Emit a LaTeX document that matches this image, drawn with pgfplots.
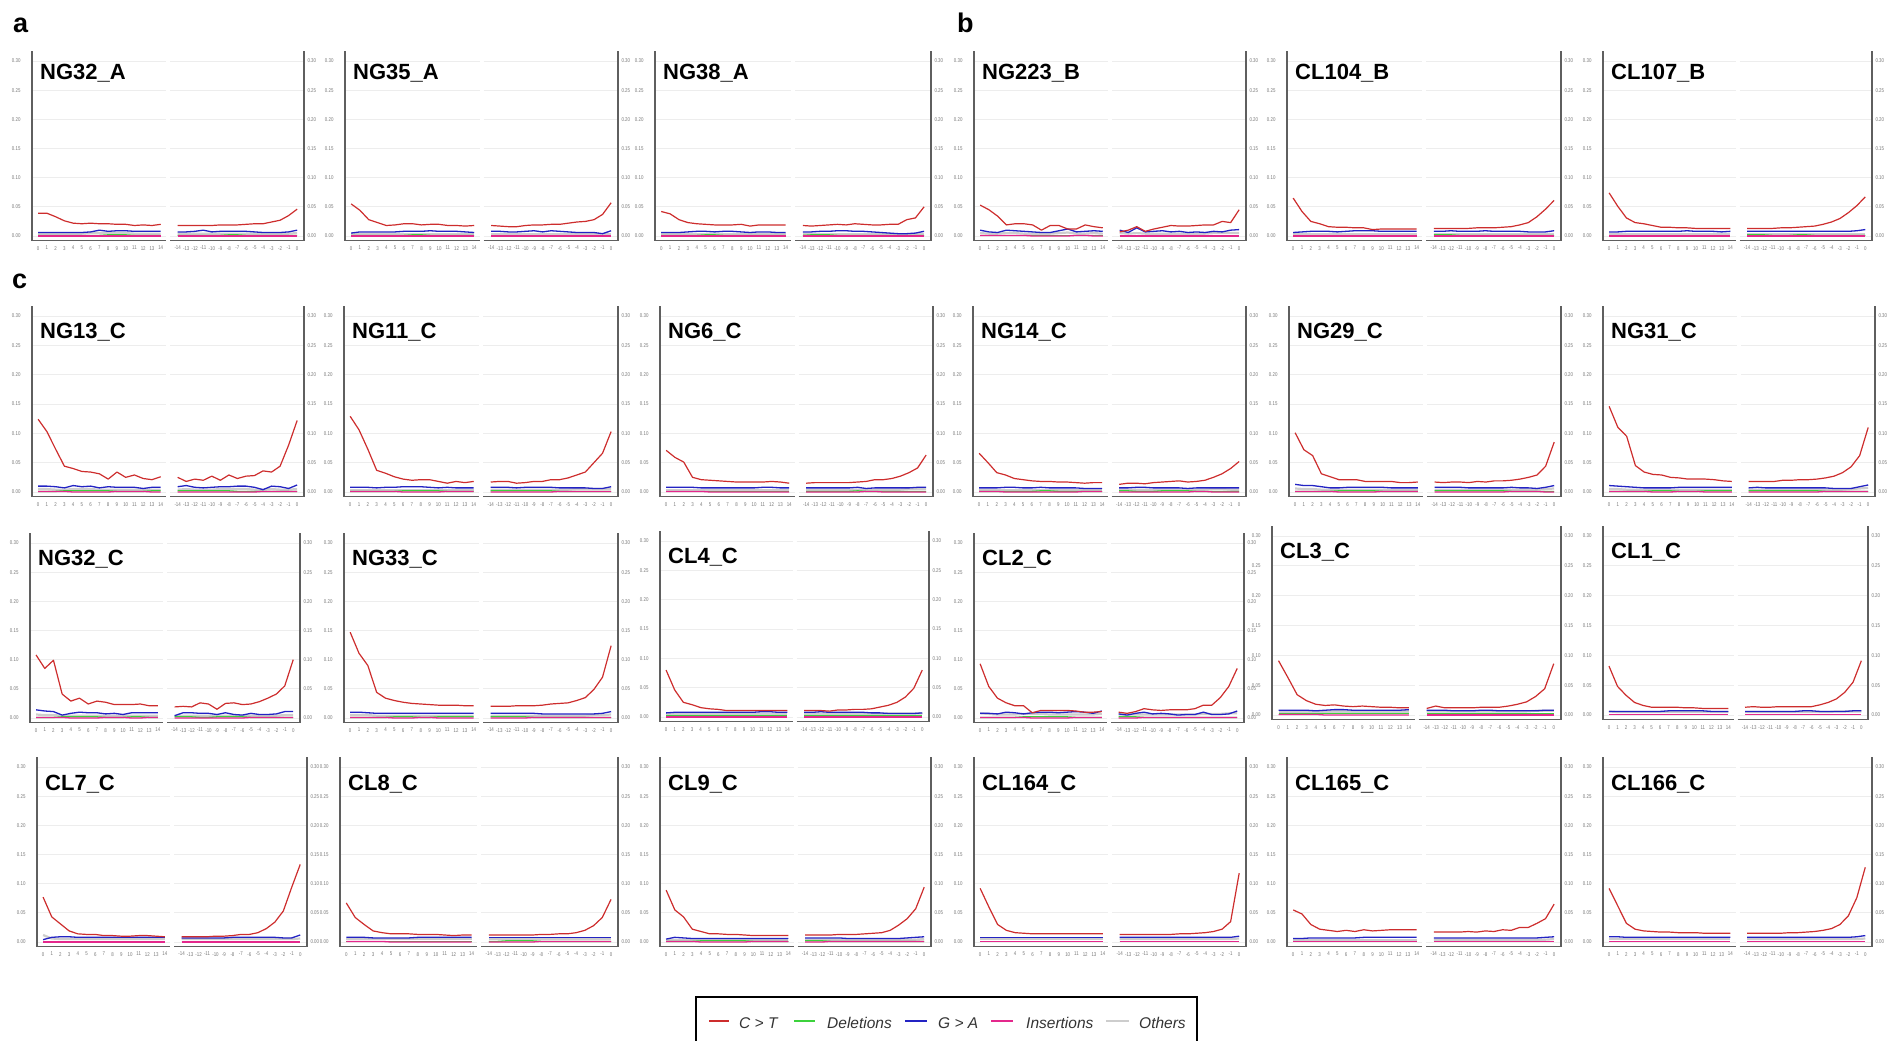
\documentclass[border=0pt]{standalone}
\usepackage{pgfplots}
\pgfplotsset{compat=1.18}
\usepackage{pgfplotstable}
\usepackage{fontspec}
\setmainfont{Liberation Sans}
\newfontfamily\tickfont{Liberation Sans}[FakeStretch=0.8]
\definecolor{ctcol}{RGB}{205,45,45}
\definecolor{delcol}{RGB}{60,210,60}
\definecolor{gacol}{RGB}{35,35,195}
\definecolor{inscol}{RGB}{228,40,140}
\definecolor{othcol}{RGB}{205,205,205}
\definecolor{axcol}{RGB}{95,95,95}
\definecolor{tkcol}{RGB}{120,120,120}

\pgfplotsset{
 half/.style={scale only axis, anchor=south west, ymin=-0.008, ymax=0.317,
  ytick={0,0.05,0.1,0.15,0.2,0.25,0.3}, ymajorgrids,
  grid style={line width=0.8pt, color=black!7},
  axis x line*=bottom,
  axis line style={line width=1.3pt, color=axcol},
  major tick length=0pt,
  tick label style={font=\tickfont\fontsize{5.5}{6}\selectfont, text=tkcol},
  xticklabel style={yshift=-2pt},
  yticklabel style={/pgf/number format/fixed, /pgf/number format/fixed zerofill, /pgf/number format/precision=2},
  /pgf/number format/assume math mode=true,
 }
}
\newcommand{\plotall}[1]{%
 \addplot[othcol, line width=2.2pt] table[x=x,y=oth]{#1};
 \addplot[delcol, line width=1.3pt] table[x=x,y=del]{#1};
 \addplot[inscol, line width=1.3pt] table[x=x,y=ins]{#1};
 \addplot[gacol, line width=1.3pt] table[x=x,y=ga]{#1};
 \addplot[ctcol, line width=1.2pt, line join=round] table[x=x,y=ct]{#1};
}
% #1 title, #2 left x, #3 right x, #4 y of 0.30, #5 y of 0.00, #6 5' table, #7 3' table, #8 title offset
\newcommand{\panel}[8]{%
 \pgfmathsetmacro{\pnK}{(#5-#4)/0.30}%
 \pgfmathsetmacro{\pnY}{-(#5+0.008*\pnK)}%
 \pgfmathsetmacro{\pnH}{0.325*\pnK}%
 \pgfmathsetmacro{\pnW}{(#3-#2-4)/2}%
 \pgfmathsetmacro{\pnX}{#2+\pnW+4}%
 \begin{axis}[half, at={(#2pt,\pnY pt)}, width=\pnW pt, height=\pnH pt,
   xmin=-0.7, xmax=14.6, axis y line*=left, xtick={0,...,14},
   yticklabel style={xshift=-8pt}]
  \plotall{#6}
 \end{axis}
 \begin{axis}[half, at={(\pnX pt,\pnY pt)}, width=\pnW pt, height=\pnH pt,
   xmin=-14.9, xmax=0.8, axis y line*=right, xtick={-14,...,0}]
  \plotall{#7}
 \end{axis}
 \node[anchor=base west, inner sep=0pt, font=\bfseries\fontsize{22}{22}\selectfont] at ({(#2+8)*1pt},{-(#4+#8)*1pt}) {#1};
}

% ---------------- data: x, C>T, Deletions, G>A, Insertions, Others
\pgfplotstableread{
x ct del ga ins oth
0 0.039 0.001 0.006 0.000 0.004
1 0.039 0.001 0.006 0.000 0.004
2 0.033 0.001 0.006 0.000 0.004
3 0.026 0.001 0.006 0.000 0.004
4 0.022 0.001 0.006 0.000 0.004
5 0.021 0.001 0.006 0.000 0.004
6 0.022 0.001 0.007 0.000 0.005
7 0.021 0.001 0.010 0.000 0.005
8 0.021 0.002 0.008 0.000 0.005
9 0.020 0.002 0.009 0.000 0.005
10 0.020 0.002 0.009 0.000 0.005
11 0.018 0.001 0.008 0.000 0.004
12 0.019 0.001 0.008 0.000 0.004
13 0.018 0.001 0.008 0.000 0.004
14 0.020 0.001 0.008 0.000 0.004
}\tbAL
\pgfplotstableread{
x ct del ga ins oth
-14 0.018 0.001 0.007 0.000 0.004
-13 0.018 0.001 0.007 0.000 0.004
-12 0.018 0.001 0.008 0.000 0.004
-11 0.018 0.001 0.010 0.000 0.004
-10 0.018 0.001 0.007 0.000 0.004
-9 0.019 0.001 0.008 0.000 0.004
-8 0.019 0.002 0.008 0.000 0.004
-7 0.019 0.002 0.008 0.000 0.004
-6 0.020 0.001 0.008 0.000 0.004
-5 0.021 0.001 0.007 0.000 0.004
-4 0.021 0.001 0.006 0.000 0.003
-3 0.024 0.001 0.006 0.000 0.003
-2 0.027 0.001 0.006 0.000 0.004
-1 0.035 0.001 0.007 0.000 0.004
0 0.046 0.001 0.010 0.000 0.005
}\tbAR
\pgfplotstableread{
x ct del ga ins oth
0 0.055 0.001 0.005 0.000 0.004
1 0.044 0.001 0.007 0.000 0.004
2 0.028 0.001 0.007 0.000 0.004
3 0.023 0.001 0.007 0.000 0.004
4 0.018 0.001 0.007 0.000 0.004
5 0.019 0.001 0.007 0.000 0.004
6 0.021 0.001 0.008 0.000 0.004
7 0.021 0.002 0.008 0.000 0.004
8 0.019 0.002 0.008 0.000 0.004
9 0.020 0.001 0.009 0.000 0.004
10 0.020 0.001 0.008 0.000 0.004
11 0.018 0.001 0.008 0.000 0.004
12 0.018 0.001 0.008 0.000 0.004
13 0.017 0.001 0.007 0.000 0.004
14 0.018 0.001 0.006 0.000 0.004
}\tbBL
\pgfplotstableread{
x ct del ga ins oth
-14 0.018 0.001 0.008 0.000 0.004
-13 0.017 0.001 0.008 0.000 0.004
-12 0.016 0.001 0.007 0.000 0.004
-11 0.016 0.001 0.007 0.000 0.004
-10 0.018 0.001 0.008 0.000 0.004
-9 0.019 0.001 0.009 0.000 0.004
-8 0.019 0.001 0.007 0.000 0.004
-7 0.020 0.001 0.009 0.000 0.004
-6 0.020 0.001 0.008 0.000 0.004
-5 0.022 0.001 0.007 0.000 0.004
-4 0.024 0.001 0.006 0.000 0.004
-3 0.025 0.001 0.006 0.000 0.004
-2 0.028 0.001 0.006 0.000 0.004
-1 0.037 0.001 0.004 0.000 0.004
0 0.057 0.001 0.009 0.000 0.004
}\tbBR
\pgfplotstableread{
x ct del ga ins oth
0 0.042 0.001 0.006 0.000 0.004
1 0.038 0.001 0.006 0.000 0.004
2 0.028 0.001 0.006 0.000 0.004
3 0.023 0.001 0.007 0.000 0.004
4 0.021 0.001 0.008 0.000 0.004
5 0.020 0.002 0.008 0.000 0.004
6 0.019 0.002 0.007 0.000 0.004
7 0.019 0.001 0.008 0.000 0.004
8 0.019 0.001 0.008 0.000 0.004
9 0.020 0.001 0.007 0.000 0.004
10 0.017 0.001 0.006 0.000 0.004
11 0.019 0.001 0.007 0.000 0.004
12 0.019 0.001 0.007 0.000 0.004
13 0.019 0.001 0.006 0.000 0.004
14 0.019 0.001 0.006 0.000 0.004
}\tbCL
\pgfplotstableread{
x ct del ga ins oth
-14 0.018 0.001 0.007 0.000 0.004
-13 0.017 0.002 0.007 0.000 0.004
-12 0.018 0.002 0.008 0.000 0.004
-11 0.019 0.002 0.008 0.000 0.004
-10 0.020 0.001 0.009 0.000 0.004
-9 0.019 0.001 0.009 0.000 0.004
-8 0.021 0.001 0.008 0.000 0.004
-7 0.020 0.001 0.008 0.000 0.004
-6 0.019 0.001 0.007 0.000 0.004
-5 0.019 0.001 0.006 0.000 0.004
-4 0.020 0.001 0.005 0.000 0.004
-3 0.020 0.001 0.004 0.000 0.004
-2 0.028 0.001 0.004 0.000 0.004
-1 0.031 0.001 0.005 0.000 0.004
0 0.050 0.001 0.008 0.000 0.004
}\tbCR
\pgfplotstableread{
x ct del ga ins oth
0 0.053 0.001 0.010 0.001 0.005
1 0.045 0.001 0.007 0.001 0.004
2 0.034 0.001 0.006 0.001 0.004
3 0.019 0.001 0.010 0.001 0.005
4 0.021 0.001 0.009 0.001 0.005
5 0.021 0.001 0.008 0.001 0.004
6 0.019 0.001 0.007 0.000 0.004
7 0.010 0.001 0.006 0.000 0.004
8 0.018 0.001 0.006 0.000 0.004
9 0.018 0.001 0.009 0.000 0.005
10 0.012 0.001 0.012 0.000 0.006
11 0.012 0.001 0.007 0.001 0.004
12 0.019 0.001 0.008 0.001 0.004
13 0.016 0.001 0.009 0.000 0.005
14 0.014 0.001 0.008 0.000 0.004
}\tbDL
\pgfplotstableread{
x ct del ga ins oth
-14 0.007 0.001 0.010 0.000 0.005
-13 0.010 0.001 0.006 0.000 0.004
-12 0.016 0.001 0.014 0.000 0.005
-11 0.008 0.001 0.007 0.000 0.004
-10 0.012 0.001 0.008 0.000 0.004
-9 0.015 0.001 0.009 0.000 0.004
-8 0.018 0.001 0.007 0.000 0.004
-7 0.017 0.001 0.008 0.000 0.004
-6 0.017 0.001 0.006 0.000 0.004
-5 0.018 0.001 0.007 0.000 0.004
-4 0.019 0.001 0.006 0.000 0.004
-3 0.019 0.001 0.008 0.000 0.005
-2 0.025 0.001 0.007 0.000 0.005
-1 0.023 0.001 0.010 0.000 0.005
0 0.045 0.001 0.011 0.000 0.005
}\tbDR
\pgfplotstableread{
x ct del ga ins oth
0 0.065 0.001 0.006 0.000 0.004
1 0.042 0.001 0.007 0.000 0.004
2 0.025 0.001 0.008 0.000 0.004
3 0.021 0.001 0.008 0.000 0.004
4 0.016 0.001 0.008 0.000 0.004
5 0.015 0.001 0.007 0.000 0.004
6 0.015 0.001 0.008 0.000 0.004
7 0.014 0.001 0.009 0.000 0.004
8 0.014 0.001 0.009 0.000 0.004
9 0.011 0.001 0.009 0.000 0.004
10 0.012 0.001 0.008 0.000 0.004
11 0.012 0.001 0.008 0.000 0.004
12 0.012 0.001 0.008 0.000 0.004
13 0.012 0.001 0.008 0.000 0.004
14 0.012 0.001 0.008 0.000 0.004
}\tbEL
\pgfplotstableread{
x ct del ga ins oth
-14 0.013 0.002 0.008 0.000 0.004
-13 0.013 0.002 0.008 0.000 0.004
-12 0.013 0.002 0.009 0.000 0.004
-11 0.013 0.001 0.008 0.000 0.004
-10 0.013 0.001 0.008 0.000 0.004
-9 0.014 0.001 0.008 0.000 0.004
-8 0.014 0.001 0.009 0.000 0.004
-7 0.014 0.001 0.008 0.000 0.004
-6 0.015 0.001 0.008 0.000 0.004
-5 0.016 0.001 0.008 0.000 0.004
-4 0.019 0.001 0.008 0.000 0.004
-3 0.023 0.001 0.007 0.000 0.004
-2 0.033 0.001 0.007 0.000 0.004
-1 0.046 0.001 0.007 0.000 0.004
0 0.061 0.001 0.009 0.000 0.004
}\tbER
\pgfplotstableread{
x ct del ga ins oth
0 0.074 0.001 0.007 0.000 0.004
1 0.051 0.001 0.007 0.000 0.004
2 0.031 0.001 0.008 0.000 0.004
3 0.023 0.001 0.008 0.000 0.004
4 0.021 0.001 0.008 0.000 0.004
5 0.018 0.001 0.008 0.000 0.004
6 0.015 0.001 0.008 0.000 0.004
7 0.015 0.001 0.008 0.000 0.004
8 0.014 0.001 0.008 0.000 0.004
9 0.014 0.001 0.009 0.000 0.004
10 0.013 0.001 0.008 0.000 0.004
11 0.013 0.001 0.008 0.000 0.004
12 0.013 0.001 0.008 0.000 0.004
13 0.013 0.001 0.007 0.000 0.004
14 0.013 0.001 0.008 0.000 0.004
}\tbFL
\pgfplotstableread{
x ct del ga ins oth
-14 0.013 0.002 0.008 0.000 0.004
-13 0.013 0.002 0.008 0.000 0.004
-12 0.013 0.002 0.008 0.000 0.004
-11 0.013 0.001 0.008 0.000 0.004
-10 0.014 0.001 0.008 0.000 0.004
-9 0.014 0.001 0.008 0.000 0.004
-8 0.015 0.002 0.008 0.000 0.004
-7 0.016 0.002 0.008 0.000 0.004
-6 0.017 0.001 0.008 0.000 0.004
-5 0.020 0.001 0.008 0.000 0.004
-4 0.024 0.001 0.008 0.000 0.004
-3 0.030 0.001 0.008 0.000 0.004
-2 0.040 0.001 0.008 0.000 0.004
-1 0.052 0.001 0.009 0.000 0.004
0 0.067 0.001 0.011 0.000 0.004
}\tbFR
\pgfplotstableread{
x ct del ga ins oth
0 0.124 0.001 0.010 0.001 0.005
1 0.103 0.001 0.010 0.001 0.005
2 0.073 0.001 0.009 0.001 0.004
3 0.044 0.002 0.007 0.001 0.004
4 0.040 0.002 0.011 0.000 0.005
5 0.035 0.002 0.009 0.000 0.005
6 0.034 0.002 0.010 0.000 0.005
7 0.031 0.002 0.007 0.000 0.004
8 0.022 0.002 0.009 0.000 0.004
9 0.034 0.001 0.008 0.001 0.004
10 0.025 0.001 0.008 0.001 0.004
11 0.029 0.001 0.008 0.001 0.004
12 0.023 0.001 0.006 0.001 0.004
13 0.021 0.002 0.008 0.000 0.004
14 0.026 0.002 0.008 0.000 0.004
}\tbGL
\pgfplotstableread{
x ct del ga ins oth
-14 0.025 0.002 0.009 0.000 0.004
-13 0.018 0.002 0.011 0.000 0.005
-12 0.022 0.002 0.008 0.000 0.004
-11 0.020 0.002 0.007 0.000 0.004
-10 0.027 0.002 0.008 0.000 0.004
-9 0.020 0.002 0.009 0.000 0.005
-8 0.029 0.002 0.009 0.000 0.005
-7 0.023 0.001 0.010 0.000 0.005
-6 0.027 0.001 0.010 0.000 0.005
-5 0.028 0.001 0.008 0.000 0.004
-4 0.036 0.001 0.004 0.001 0.004
-3 0.034 0.001 0.010 0.001 0.005
-2 0.044 0.001 0.009 0.001 0.004
-1 0.080 0.001 0.006 0.001 0.004
0 0.122 0.001 0.012 0.001 0.005
}\tbGR
\pgfplotstableread{
x ct del ga ins oth
0 0.129 0.001 0.008 0.001 0.004
1 0.106 0.001 0.008 0.001 0.004
2 0.073 0.001 0.008 0.001 0.004
3 0.037 0.001 0.007 0.001 0.004
4 0.032 0.001 0.008 0.001 0.004
5 0.026 0.001 0.008 0.001 0.004
6 0.022 0.002 0.009 0.000 0.004
7 0.020 0.002 0.009 0.000 0.004
8 0.021 0.002 0.009 0.000 0.004
9 0.021 0.002 0.008 0.000 0.004
10 0.018 0.002 0.007 0.000 0.004
11 0.015 0.001 0.008 0.001 0.004
12 0.018 0.001 0.007 0.001 0.004
13 0.016 0.001 0.007 0.001 0.004
14 0.018 0.001 0.007 0.001 0.004
}\tbHL
\pgfplotstableread{
x ct del ga ins oth
-14 0.017 0.002 0.008 0.000 0.004
-13 0.018 0.002 0.008 0.000 0.004
-12 0.018 0.002 0.008 0.000 0.004
-11 0.015 0.002 0.007 0.000 0.004
-10 0.016 0.002 0.008 0.000 0.004
-9 0.018 0.002 0.008 0.000 0.004
-8 0.018 0.002 0.008 0.000 0.004
-7 0.021 0.002 0.008 0.000 0.004
-6 0.021 0.001 0.007 0.001 0.004
-5 0.024 0.001 0.007 0.001 0.004
-4 0.029 0.001 0.007 0.001 0.005
-3 0.034 0.001 0.007 0.001 0.005
-2 0.050 0.001 0.006 0.001 0.005
-1 0.066 0.001 0.006 0.001 0.005
0 0.103 0.001 0.009 0.001 0.005
}\tbHR
\pgfplotstableread{
x ct del ga ins oth
0 0.071 0.001 0.008 0.001 0.004
1 0.059 0.001 0.008 0.001 0.004
2 0.051 0.001 0.008 0.001 0.004
3 0.025 0.001 0.008 0.001 0.004
4 0.021 0.001 0.007 0.001 0.004
5 0.020 0.001 0.007 0.000 0.004
6 0.019 0.001 0.007 0.000 0.004
7 0.018 0.001 0.007 0.000 0.004
8 0.017 0.001 0.007 0.000 0.004
9 0.017 0.001 0.007 0.000 0.004
10 0.017 0.001 0.007 0.000 0.004
11 0.017 0.001 0.008 0.000 0.004
12 0.018 0.001 0.008 0.000 0.004
13 0.017 0.001 0.007 0.000 0.004
14 0.015 0.001 0.007 0.000 0.004
}\tbIL
\pgfplotstableread{
x ct del ga ins oth
-14 0.015 0.001 0.007 0.000 0.004
-13 0.016 0.001 0.007 0.000 0.004
-12 0.016 0.001 0.007 0.000 0.004
-11 0.016 0.001 0.007 0.000 0.004
-10 0.016 0.001 0.007 0.000 0.004
-9 0.016 0.001 0.007 0.000 0.004
-8 0.017 0.002 0.008 0.000 0.004
-7 0.018 0.001 0.006 0.001 0.004
-6 0.021 0.001 0.007 0.001 0.004
-5 0.021 0.001 0.007 0.000 0.004
-4 0.023 0.001 0.007 0.000 0.004
-3 0.027 0.001 0.007 0.000 0.004
-2 0.033 0.001 0.007 0.000 0.005
-1 0.041 0.001 0.008 0.000 0.005
0 0.063 0.001 0.008 0.000 0.005
}\tbIR
\pgfplotstableread{
x ct del ga ins oth
0 0.066 0.001 0.007 0.001 0.004
1 0.050 0.001 0.007 0.001 0.004
2 0.033 0.001 0.007 0.001 0.004
3 0.029 0.001 0.008 0.000 0.004
4 0.023 0.001 0.008 0.000 0.004
5 0.021 0.001 0.007 0.000 0.004
6 0.019 0.001 0.007 0.000 0.004
7 0.018 0.002 0.008 0.000 0.004
8 0.018 0.002 0.007 0.000 0.004
9 0.017 0.001 0.007 0.000 0.004
10 0.017 0.001 0.007 0.000 0.004
11 0.016 0.001 0.007 0.000 0.004
12 0.015 0.001 0.006 0.001 0.004
13 0.016 0.001 0.006 0.001 0.004
14 0.016 0.001 0.006 0.001 0.004
}\tbJL
\pgfplotstableread{
x ct del ga ins oth
-14 0.013 0.002 0.007 0.000 0.004
-13 0.015 0.002 0.007 0.000 0.004
-12 0.015 0.001 0.008 0.000 0.004
-11 0.014 0.001 0.008 0.000 0.004
-10 0.016 0.001 0.007 0.000 0.004
-9 0.017 0.002 0.007 0.000 0.004
-8 0.018 0.002 0.007 0.000 0.004
-7 0.019 0.002 0.007 0.000 0.004
-6 0.017 0.002 0.006 0.000 0.004
-5 0.018 0.001 0.007 0.001 0.004
-4 0.020 0.001 0.007 0.001 0.004
-3 0.025 0.001 0.007 0.000 0.005
-2 0.031 0.001 0.007 0.000 0.005
-1 0.040 0.001 0.007 0.000 0.004
0 0.052 0.001 0.007 0.000 0.004
}\tbJR
\pgfplotstableread{
x ct del ga ins oth
0 0.101 0.001 0.013 0.001 0.006
1 0.072 0.001 0.011 0.001 0.005
2 0.062 0.001 0.011 0.001 0.005
3 0.031 0.001 0.009 0.001 0.004
4 0.026 0.001 0.007 0.001 0.004
5 0.021 0.002 0.007 0.000 0.004
6 0.021 0.002 0.008 0.000 0.004
7 0.021 0.002 0.008 0.000 0.004
8 0.018 0.002 0.008 0.000 0.004
9 0.018 0.002 0.008 0.000 0.004
10 0.018 0.001 0.008 0.001 0.004
11 0.018 0.001 0.007 0.001 0.004
12 0.016 0.001 0.007 0.001 0.004
13 0.016 0.001 0.007 0.001 0.004
14 0.017 0.001 0.007 0.001 0.004
}\tbKL
\pgfplotstableread{
x ct del ga ins oth
-14 0.017 0.002 0.008 0.000 0.004
-13 0.016 0.002 0.008 0.000 0.004
-12 0.017 0.002 0.008 0.000 0.004
-11 0.017 0.002 0.008 0.000 0.004
-10 0.016 0.002 0.007 0.000 0.004
-9 0.018 0.002 0.007 0.000 0.004
-8 0.017 0.002 0.007 0.000 0.004
-7 0.019 0.002 0.007 0.000 0.004
-6 0.019 0.002 0.007 0.000 0.004
-5 0.020 0.001 0.008 0.001 0.004
-4 0.022 0.001 0.007 0.001 0.004
-3 0.025 0.001 0.007 0.001 0.004
-2 0.029 0.001 0.006 0.001 0.004
-1 0.044 0.001 0.008 0.000 0.005
0 0.085 0.001 0.011 0.000 0.006
}\tbKR
\pgfplotstableread{
x ct del ga ins oth
0 0.146 0.001 0.011 0.001 0.005
1 0.110 0.001 0.010 0.001 0.005
2 0.095 0.001 0.009 0.001 0.004
3 0.045 0.001 0.008 0.001 0.004
4 0.034 0.001 0.007 0.001 0.004
5 0.030 0.002 0.007 0.000 0.004
6 0.029 0.002 0.007 0.000 0.004
7 0.025 0.002 0.007 0.000 0.004
8 0.024 0.001 0.008 0.001 0.004
9 0.022 0.001 0.008 0.001 0.004
10 0.022 0.001 0.008 0.001 0.004
11 0.022 0.002 0.008 0.000 0.004
12 0.021 0.002 0.008 0.000 0.004
13 0.019 0.002 0.008 0.000 0.004
14 0.018 0.002 0.008 0.000 0.004
}\tbLL
\pgfplotstableread{
x ct del ga ins oth
-14 0.018 0.002 0.007 0.000 0.004
-13 0.018 0.002 0.008 0.000 0.004
-12 0.018 0.002 0.007 0.000 0.004
-11 0.018 0.002 0.007 0.000 0.004
-10 0.020 0.002 0.007 0.000 0.004
-9 0.020 0.002 0.007 0.000 0.004
-8 0.021 0.002 0.007 0.000 0.004
-7 0.021 0.002 0.007 0.000 0.004
-6 0.022 0.002 0.007 0.000 0.004
-5 0.024 0.001 0.007 0.001 0.004
-4 0.027 0.001 0.006 0.001 0.004
-3 0.033 0.001 0.006 0.001 0.004
-2 0.043 0.001 0.006 0.001 0.005
-1 0.062 0.001 0.009 0.001 0.006
0 0.110 0.001 0.012 0.001 0.007
}\tbLR
\pgfplotstableread{
x ct del ga ins oth
0 0.108 0.001 0.014 0.001 0.006
1 0.085 0.001 0.012 0.001 0.005
2 0.099 0.001 0.011 0.001 0.005
3 0.041 0.002 0.005 0.001 0.004
4 0.029 0.002 0.008 0.000 0.004
5 0.034 0.002 0.010 0.000 0.004
6 0.024 0.002 0.009 0.000 0.004
7 0.029 0.002 0.009 0.000 0.004
8 0.027 0.001 0.007 0.001 0.004
9 0.023 0.001 0.008 0.001 0.004
10 0.023 0.001 0.006 0.001 0.004
11 0.023 0.002 0.009 0.000 0.004
12 0.024 0.002 0.009 0.000 0.004
13 0.021 0.001 0.009 0.001 0.004
14 0.021 0.001 0.009 0.001 0.004
}\tbML
\pgfplotstableread{
x ct del ga ins oth
-14 0.019 0.002 0.004 0.000 0.004
-13 0.020 0.002 0.009 0.000 0.004
-12 0.019 0.002 0.009 0.000 0.004
-11 0.026 0.001 0.008 0.000 0.004
-10 0.024 0.001 0.008 0.000 0.004
-9 0.015 0.002 0.006 0.000 0.004
-8 0.025 0.002 0.009 0.000 0.004
-7 0.026 0.002 0.006 0.000 0.004
-6 0.023 0.002 0.005 0.000 0.004
-5 0.024 0.001 0.008 0.001 0.004
-4 0.028 0.001 0.006 0.001 0.004
-3 0.034 0.001 0.006 0.001 0.004
-2 0.041 0.001 0.007 0.001 0.004
-1 0.055 0.001 0.011 0.001 0.005
0 0.100 0.001 0.011 0.001 0.005
}\tbMR
\pgfplotstableread{
x ct del ga ins oth
0 0.147 0.001 0.010 0.001 0.005
1 0.111 0.001 0.010 0.001 0.005
2 0.090 0.001 0.009 0.001 0.005
3 0.044 0.001 0.008 0.001 0.004
4 0.034 0.001 0.008 0.001 0.004
5 0.030 0.002 0.008 0.000 0.004
6 0.027 0.002 0.008 0.000 0.004
7 0.025 0.002 0.008 0.000 0.004
8 0.024 0.001 0.008 0.001 0.004
9 0.023 0.001 0.008 0.001 0.004
10 0.022 0.002 0.008 0.000 0.004
11 0.022 0.002 0.008 0.000 0.004
12 0.022 0.002 0.008 0.000 0.004
13 0.021 0.002 0.008 0.000 0.004
14 0.021 0.002 0.008 0.000 0.004
}\tbNL
\pgfplotstableread{
x ct del ga ins oth
-14 0.020 0.002 0.008 0.000 0.004
-13 0.020 0.002 0.008 0.000 0.004
-12 0.020 0.002 0.008 0.000 0.004
-11 0.021 0.002 0.008 0.000 0.004
-10 0.021 0.002 0.008 0.000 0.004
-9 0.021 0.001 0.008 0.001 0.004
-8 0.022 0.001 0.007 0.001 0.004
-7 0.024 0.001 0.007 0.001 0.004
-6 0.025 0.001 0.007 0.001 0.004
-5 0.026 0.001 0.007 0.001 0.004
-4 0.030 0.001 0.007 0.001 0.004
-3 0.035 0.001 0.007 0.001 0.004
-2 0.049 0.001 0.007 0.001 0.005
-1 0.070 0.001 0.008 0.001 0.005
0 0.124 0.001 0.011 0.001 0.006
}\tbNR
\pgfplotstableread{
x ct del ga ins oth
0 0.080 0.002 0.007 0.000 0.005
1 0.046 0.002 0.008 0.000 0.005
2 0.025 0.002 0.008 0.000 0.005
3 0.021 0.002 0.008 0.000 0.005
4 0.016 0.002 0.008 0.000 0.005
5 0.014 0.002 0.008 0.000 0.005
6 0.013 0.002 0.008 0.000 0.005
7 0.011 0.002 0.008 0.000 0.005
8 0.011 0.002 0.008 0.000 0.005
9 0.011 0.002 0.008 0.000 0.005
10 0.011 0.002 0.008 0.000 0.005
11 0.011 0.002 0.009 0.000 0.005
12 0.011 0.002 0.009 0.000 0.005
13 0.011 0.002 0.008 0.000 0.005
14 0.011 0.002 0.008 0.000 0.005
}\tbOL
\pgfplotstableread{
x ct del ga ins oth
-14 0.011 0.002 0.008 0.000 0.005
-13 0.011 0.002 0.008 0.000 0.005
-12 0.011 0.002 0.009 0.000 0.005
-11 0.010 0.002 0.008 0.000 0.005
-10 0.012 0.002 0.008 0.000 0.005
-9 0.012 0.002 0.008 0.000 0.005
-8 0.013 0.002 0.008 0.000 0.005
-7 0.013 0.002 0.008 0.000 0.005
-6 0.014 0.002 0.007 0.000 0.005
-5 0.017 0.002 0.007 0.000 0.005
-4 0.020 0.002 0.006 0.000 0.006
-3 0.025 0.002 0.006 0.000 0.006
-2 0.034 0.002 0.006 0.000 0.006
-1 0.049 0.002 0.006 0.000 0.006
0 0.080 0.002 0.007 0.000 0.006
}\tbOR
\pgfplotstableread{
x ct del ga ins oth
0 0.093 0.001 0.008 0.001 0.008
1 0.054 0.001 0.008 0.001 0.007
2 0.034 0.001 0.007 0.001 0.006
3 0.026 0.001 0.010 0.001 0.006
4 0.021 0.001 0.009 0.001 0.006
5 0.021 0.002 0.007 0.001 0.007
6 0.009 0.002 0.009 0.000 0.007
7 0.013 0.002 0.010 0.000 0.007
8 0.013 0.002 0.010 0.000 0.006
9 0.013 0.002 0.009 0.000 0.006
10 0.013 0.002 0.010 0.000 0.006
11 0.012 0.001 0.011 0.001 0.006
12 0.010 0.001 0.010 0.001 0.006
13 0.010 0.001 0.008 0.001 0.006
14 0.011 0.001 0.012 0.001 0.007
}\tbPL
\pgfplotstableread{
x ct del ga ins oth
-14 0.010 0.002 0.007 0.000 0.006
-13 0.008 0.002 0.005 0.000 0.006
-12 0.011 0.002 0.008 0.000 0.006
-11 0.016 0.001 0.010 0.001 0.006
-10 0.014 0.001 0.007 0.001 0.006
-9 0.013 0.001 0.008 0.001 0.006
-8 0.014 0.001 0.007 0.001 0.006
-7 0.014 0.001 0.005 0.001 0.006
-6 0.014 0.001 0.006 0.001 0.006
-5 0.016 0.001 0.006 0.001 0.006
-4 0.022 0.001 0.010 0.001 0.007
-3 0.022 0.001 0.006 0.001 0.007
-2 0.035 0.001 0.006 0.001 0.007
-1 0.054 0.001 0.007 0.001 0.008
0 0.085 0.001 0.012 0.001 0.008
}\tbPR
\pgfplotstableread{
x ct del ga ins oth
0 0.091 0.002 0.008 0.001 0.006
1 0.063 0.002 0.008 0.001 0.006
2 0.034 0.002 0.008 0.001 0.006
3 0.024 0.002 0.008 0.001 0.006
4 0.018 0.002 0.007 0.001 0.006
5 0.016 0.002 0.008 0.000 0.006
6 0.017 0.002 0.009 0.000 0.006
7 0.015 0.002 0.009 0.000 0.006
8 0.014 0.002 0.008 0.000 0.006
9 0.015 0.002 0.008 0.000 0.006
10 0.014 0.002 0.008 0.000 0.006
11 0.013 0.002 0.008 0.000 0.006
12 0.013 0.002 0.008 0.000 0.006
13 0.012 0.002 0.008 0.000 0.006
14 0.012 0.002 0.009 0.000 0.006
}\tbQL
\pgfplotstableread{
x ct del ga ins oth
-14 0.011 0.002 0.008 0.000 0.006
-13 0.015 0.002 0.008 0.000 0.006
-12 0.012 0.002 0.008 0.000 0.006
-11 0.012 0.002 0.007 0.000 0.006
-10 0.012 0.002 0.007 0.000 0.006
-9 0.012 0.002 0.007 0.000 0.006
-8 0.013 0.002 0.008 0.000 0.006
-7 0.013 0.002 0.008 0.000 0.006
-6 0.013 0.002 0.007 0.000 0.006
-5 0.015 0.002 0.007 0.000 0.006
-4 0.018 0.002 0.007 0.000 0.006
-3 0.022 0.002 0.007 0.000 0.006
-2 0.031 0.002 0.007 0.000 0.007
-1 0.044 0.002 0.008 0.000 0.007
0 0.086 0.002 0.008 0.000 0.007
}\tbQR
\pgfplotstableread{
x ct del ga ins oth
0 0.082 0.001 0.006 0.001 0.006
1 0.048 0.001 0.006 0.001 0.005
2 0.033 0.001 0.006 0.001 0.005
3 0.021 0.001 0.006 0.001 0.005
4 0.016 0.001 0.006 0.001 0.005
5 0.013 0.001 0.006 0.001 0.005
6 0.013 0.001 0.006 0.001 0.005
7 0.013 0.001 0.007 0.001 0.005
8 0.013 0.001 0.007 0.001 0.005
9 0.012 0.001 0.007 0.001 0.005
10 0.012 0.001 0.007 0.001 0.005
11 0.011 0.001 0.007 0.001 0.005
12 0.011 0.001 0.006 0.001 0.005
13 0.011 0.001 0.006 0.001 0.005
14 0.011 0.001 0.006 0.001 0.005
}\tbRL
\pgfplotstableread{
x ct del ga ins oth
-14 0.013 0.001 0.006 0.001 0.005
-13 0.014 0.001 0.006 0.001 0.005
-12 0.013 0.001 0.006 0.001 0.005
-11 0.013 0.001 0.006 0.001 0.005
-10 0.014 0.001 0.006 0.001 0.005
-9 0.014 0.001 0.006 0.001 0.005
-8 0.014 0.001 0.006 0.001 0.005
-7 0.014 0.001 0.007 0.001 0.005
-6 0.014 0.001 0.007 0.001 0.005
-5 0.017 0.001 0.006 0.001 0.005
-4 0.021 0.001 0.006 0.001 0.005
-3 0.027 0.001 0.006 0.001 0.006
-2 0.038 0.001 0.006 0.001 0.006
-1 0.055 0.001 0.007 0.001 0.006
0 0.091 0.001 0.007 0.001 0.006
}\tbRR
\pgfplotstableread{
x ct del ga ins oth
0 0.077 0.001 0.004 0.000 0.012
1 0.043 0.001 0.008 0.000 0.006
2 0.031 0.001 0.009 0.000 0.005
3 0.019 0.001 0.009 0.000 0.005
4 0.014 0.001 0.008 0.000 0.005
5 0.013 0.001 0.008 0.000 0.005
6 0.013 0.001 0.008 0.000 0.005
7 0.011 0.001 0.008 0.000 0.005
8 0.011 0.001 0.008 0.000 0.005
9 0.010 0.001 0.008 0.000 0.005
10 0.010 0.001 0.008 0.000 0.005
11 0.011 0.001 0.008 0.000 0.005
12 0.011 0.001 0.008 0.000 0.005
13 0.010 0.001 0.008 0.000 0.005
14 0.009 0.001 0.008 0.000 0.005
}\tbSL
\pgfplotstableread{
x ct del ga ins oth
-14 0.009 0.001 0.007 0.000 0.005
-13 0.009 0.001 0.007 0.000 0.005
-12 0.009 0.001 0.007 0.000 0.005
-11 0.009 0.001 0.007 0.000 0.005
-10 0.010 0.001 0.007 0.000 0.005
-9 0.010 0.001 0.007 0.000 0.005
-8 0.011 0.001 0.008 0.000 0.005
-7 0.013 0.001 0.008 0.000 0.005
-6 0.013 0.001 0.008 0.000 0.005
-5 0.016 0.001 0.008 0.000 0.005
-4 0.023 0.001 0.008 0.000 0.005
-3 0.034 0.001 0.008 0.000 0.005
-2 0.053 0.001 0.007 0.000 0.005
-1 0.094 0.001 0.007 0.000 0.005
0 0.133 0.001 0.012 0.000 0.006
}\tbSR
\pgfplotstableread{
x ct del ga ins oth
0 0.067 0.001 0.008 0.001 0.005
1 0.042 0.001 0.008 0.001 0.005
2 0.030 0.001 0.008 0.001 0.005
3 0.019 0.001 0.007 0.001 0.005
4 0.016 0.001 0.007 0.001 0.005
5 0.014 0.001 0.007 0.000 0.005
6 0.014 0.001 0.007 0.000 0.005
7 0.014 0.001 0.007 0.000 0.005
8 0.013 0.001 0.008 0.000 0.005
9 0.013 0.001 0.008 0.000 0.005
10 0.013 0.001 0.008 0.000 0.005
11 0.012 0.001 0.008 0.000 0.005
12 0.011 0.001 0.008 0.000 0.005
13 0.012 0.001 0.008 0.000 0.005
14 0.012 0.001 0.008 0.000 0.005
}\tbTL
\pgfplotstableread{
x ct del ga ins oth
-14 0.012 0.001 0.008 0.000 0.005
-13 0.012 0.001 0.008 0.000 0.005
-12 0.012 0.002 0.008 0.000 0.005
-11 0.012 0.002 0.008 0.000 0.005
-10 0.012 0.002 0.008 0.000 0.005
-9 0.012 0.002 0.008 0.000 0.005
-8 0.013 0.001 0.008 0.001 0.005
-7 0.013 0.001 0.008 0.001 0.005
-6 0.014 0.001 0.008 0.001 0.005
-5 0.014 0.001 0.008 0.001 0.005
-4 0.016 0.001 0.008 0.001 0.005
-3 0.020 0.001 0.008 0.001 0.005
-2 0.028 0.001 0.008 0.001 0.005
-1 0.042 0.001 0.008 0.001 0.005
0 0.073 0.001 0.008 0.001 0.005
}\tbTR
\pgfplotstableread{
x ct del ga ins oth
0 0.089 0.001 0.005 0.001 0.004
1 0.055 0.001 0.008 0.001 0.004
2 0.043 0.001 0.007 0.001 0.004
3 0.022 0.001 0.006 0.001 0.004
4 0.018 0.002 0.006 0.000 0.004
5 0.014 0.002 0.006 0.000 0.004
6 0.014 0.002 0.006 0.000 0.004
7 0.013 0.002 0.006 0.000 0.004
8 0.013 0.002 0.006 0.000 0.004
9 0.012 0.002 0.006 0.000 0.004
10 0.011 0.001 0.006 0.001 0.004
11 0.011 0.001 0.006 0.001 0.004
12 0.011 0.001 0.006 0.001 0.004
13 0.011 0.001 0.006 0.001 0.004
14 0.011 0.001 0.006 0.001 0.004
}\tbUL
\pgfplotstableread{
x ct del ga ins oth
-14 0.012 0.002 0.007 0.000 0.004
-13 0.012 0.002 0.007 0.000 0.004
-12 0.012 0.002 0.007 0.000 0.004
-11 0.012 0.001 0.007 0.001 0.004
-10 0.013 0.001 0.007 0.001 0.004
-9 0.013 0.001 0.006 0.001 0.004
-8 0.013 0.001 0.006 0.001 0.004
-7 0.014 0.001 0.006 0.001 0.004
-6 0.015 0.001 0.006 0.001 0.004
-5 0.016 0.001 0.006 0.001 0.004
-4 0.020 0.001 0.006 0.001 0.004
-3 0.029 0.001 0.006 0.001 0.004
-2 0.040 0.001 0.007 0.001 0.004
-1 0.057 0.001 0.008 0.001 0.004
0 0.094 0.001 0.009 0.001 0.005
}\tbUR
\pgfplotstableread{
x ct del ga ins oth
0 0.092 0.001 0.008 0.001 0.005
1 0.060 0.001 0.008 0.001 0.005
2 0.030 0.001 0.008 0.001 0.005
3 0.020 0.001 0.008 0.001 0.005
4 0.016 0.001 0.008 0.001 0.005
5 0.015 0.001 0.008 0.001 0.005
6 0.014 0.001 0.008 0.001 0.005
7 0.014 0.001 0.008 0.001 0.005
8 0.014 0.001 0.008 0.001 0.005
9 0.014 0.001 0.008 0.001 0.005
10 0.014 0.001 0.008 0.001 0.005
11 0.014 0.001 0.008 0.001 0.005
12 0.014 0.001 0.008 0.001 0.005
13 0.014 0.001 0.008 0.001 0.005
14 0.014 0.001 0.008 0.001 0.005
}\tbVL
\pgfplotstableread{
x ct del ga ins oth
-14 0.013 0.001 0.008 0.001 0.005
-13 0.013 0.001 0.008 0.001 0.005
-12 0.013 0.001 0.008 0.001 0.005
-11 0.013 0.001 0.008 0.001 0.005
-10 0.013 0.001 0.008 0.001 0.005
-9 0.013 0.001 0.008 0.001 0.005
-8 0.013 0.001 0.008 0.001 0.005
-7 0.014 0.001 0.008 0.001 0.005
-6 0.014 0.001 0.008 0.001 0.005
-5 0.015 0.001 0.008 0.001 0.005
-4 0.016 0.001 0.008 0.001 0.005
-3 0.018 0.001 0.008 0.001 0.005
-2 0.022 0.001 0.008 0.001 0.005
-1 0.035 0.001 0.008 0.001 0.005
0 0.118 0.001 0.010 0.001 0.006
}\tbVR
\pgfplotstableread{
x ct del ga ins oth
0 0.055 0.001 0.006 0.001 0.004
1 0.048 0.001 0.006 0.001 0.004
2 0.030 0.001 0.007 0.001 0.004
3 0.022 0.001 0.007 0.001 0.004
4 0.020 0.001 0.007 0.001 0.004
5 0.018 0.001 0.007 0.001 0.004
6 0.020 0.001 0.007 0.001 0.004
7 0.018 0.001 0.007 0.001 0.004
8 0.021 0.001 0.008 0.001 0.004
9 0.019 0.001 0.008 0.001 0.004
10 0.020 0.001 0.008 0.001 0.004
11 0.021 0.001 0.008 0.001 0.004
12 0.021 0.001 0.008 0.001 0.004
13 0.021 0.001 0.008 0.001 0.004
14 0.021 0.001 0.008 0.001 0.004
}\tbWL
\pgfplotstableread{
x ct del ga ins oth
-14 0.017 0.001 0.007 0.001 0.004
-13 0.017 0.001 0.007 0.001 0.004
-12 0.017 0.001 0.007 0.001 0.004
-11 0.017 0.001 0.007 0.001 0.004
-10 0.018 0.001 0.007 0.001 0.004
-9 0.017 0.001 0.007 0.001 0.004
-8 0.019 0.001 0.007 0.001 0.004
-7 0.018 0.001 0.007 0.001 0.004
-6 0.021 0.001 0.007 0.001 0.004
-5 0.020 0.001 0.007 0.001 0.004
-4 0.025 0.001 0.007 0.001 0.004
-3 0.025 0.001 0.007 0.001 0.004
-2 0.032 0.001 0.007 0.001 0.004
-1 0.040 0.001 0.008 0.001 0.004
0 0.065 0.001 0.009 0.001 0.005
}\tbWR
\pgfplotstableread{
x ct del ga ins oth
0 0.092 0.001 0.009 0.001 0.005
1 0.062 0.001 0.009 0.001 0.005
2 0.032 0.001 0.008 0.001 0.005
3 0.022 0.001 0.008 0.001 0.005
4 0.019 0.001 0.008 0.001 0.005
5 0.018 0.001 0.008 0.001 0.005
6 0.017 0.001 0.008 0.001 0.005
7 0.017 0.001 0.008 0.001 0.005
8 0.016 0.001 0.008 0.001 0.005
9 0.016 0.001 0.008 0.001 0.005
10 0.016 0.001 0.008 0.001 0.005
11 0.015 0.001 0.008 0.001 0.005
12 0.015 0.001 0.008 0.001 0.005
13 0.015 0.001 0.008 0.001 0.005
14 0.015 0.001 0.008 0.001 0.005
}\tbXL
\pgfplotstableread{
x ct del ga ins oth
-14 0.015 0.001 0.008 0.001 0.005
-13 0.015 0.001 0.008 0.001 0.005
-12 0.015 0.001 0.008 0.001 0.005
-11 0.015 0.001 0.008 0.001 0.005
-10 0.015 0.001 0.008 0.001 0.005
-9 0.016 0.001 0.008 0.001 0.005
-8 0.016 0.001 0.008 0.001 0.005
-7 0.017 0.001 0.008 0.001 0.005
-6 0.018 0.001 0.008 0.001 0.005
-5 0.020 0.001 0.008 0.001 0.005
-4 0.023 0.001 0.008 0.001 0.005
-3 0.030 0.001 0.008 0.001 0.005
-2 0.045 0.001 0.008 0.001 0.005
-1 0.076 0.001 0.009 0.001 0.005
0 0.128 0.001 0.011 0.001 0.006
}\tbXR

\begin{document}
\begin{tikzpicture}[x=1pt,y=1pt]
\path[use as bounding box] (0,0) rectangle (1887,-1041);
% panel letters
\node[anchor=base west, inner sep=0pt, font=\bfseries\fontsize{27}{27}\selectfont] at (13,-33) {a};
\node[anchor=base west, inner sep=0pt, font=\bfseries\fontsize{27}{27}\selectfont] at (957,-33) {b};
\node[anchor=base west, inner sep=0pt, font=\bfseries\fontsize{27}{27}\selectfont] at (12,-288) {c};
% row a / b
\panel{NG32\_A}{32}{304}{61}{236}{\tbAL}{\tbAR}{18}
\panel{NG35\_A}{345}{618}{61}{236}{\tbBL}{\tbBR}{18}
\panel{NG38\_A}{655}{931}{61}{236}{\tbCL}{\tbCR}{18}
\panel{NG223\_B}{974}{1246}{61}{236}{\tbDL}{\tbDR}{18}
\panel{CL104\_B}{1287}{1561}{61}{236}{\tbEL}{\tbER}{18}
\panel{CL107\_B}{1603}{1872}{61}{236}{\tbFL}{\tbFR}{18}
% row c1
\panel{NG13\_C}{32}{304}{316}{492}{\tbGL}{\tbGR}{22}
\panel{NG11\_C}{344}{618}{316}{492}{\tbHL}{\tbHR}{22}
\panel{NG6\_C}{660}{933}{316}{492}{\tbIL}{\tbIR}{22}
\panel{NG14\_C}{973}{1246}{316}{492}{\tbJL}{\tbJR}{22}
\panel{NG29\_C}{1289}{1561}{316}{492}{\tbKL}{\tbKR}{22}
\panel{NG31\_C}{1603}{1875}{316}{492}{\tbLL}{\tbLR}{22}
% row c2
\panel{NG32\_C}{30}{300}{543}{718}{\tbML}{\tbMR}{22}
\panel{NG33\_C}{344}{618}{543}{718}{\tbNL}{\tbNR}{22}
\panel{CL4\_C}{660}{929}{541}{717}{\tbOL}{\tbOR}{22}
\panel{CL2\_C}{974}{1244}{543}{718}{\tbPL}{\tbPR}{22}
\panel{CL3\_C}{1272}{1561}{536}{715}{\tbQL}{\tbQR}{22}
\panel{CL1\_C}{1603}{1868}{536}{715}{\tbRL}{\tbRR}{22}
% row c3
\panel{CL7\_C}{37}{307}{767}{942}{\tbSL}{\tbSR}{23}
\panel{CL8\_C}{340}{618}{767}{942}{\tbTL}{\tbTR}{23}
\panel{CL9\_C}{660}{931}{767}{942}{\tbUL}{\tbUR}{23}
\panel{CL164\_C}{974}{1246}{767}{942}{\tbVL}{\tbVR}{23}
\panel{CL165\_C}{1287}{1561}{767}{942}{\tbWL}{\tbWR}{23}
\panel{CL166\_C}{1603}{1872}{767}{942}{\tbXL}{\tbXR}{23}
% legend
\draw[line width=2pt, black] (696,-1060) rectangle (1197,-997);
\begin{scope}[every node/.style={anchor=base west, inner sep=0pt, text=black!80, font=\itshape\fontsize{15.5}{16}\selectfont}]
\draw[ctcol, line width=2pt] (709,-1021) -- (729,-1021);
\node at (739,-1028) {C > T};
\draw[delcol, line width=2pt] (794,-1021) -- (815,-1021);
\node at (827,-1028) {Deletions};
\draw[gacol, line width=2pt] (905,-1021) -- (927,-1021);
\node at (938,-1028) {G > A};
\draw[inscol, line width=2pt] (991,-1021) -- (1013,-1021);
\node at (1026,-1028) {Insertions};
\draw[othcol, line width=2pt] (1106,-1021) -- (1129,-1021);
\node at (1139,-1028) {Others};
\end{scope}
\end{tikzpicture}
\end{document}
